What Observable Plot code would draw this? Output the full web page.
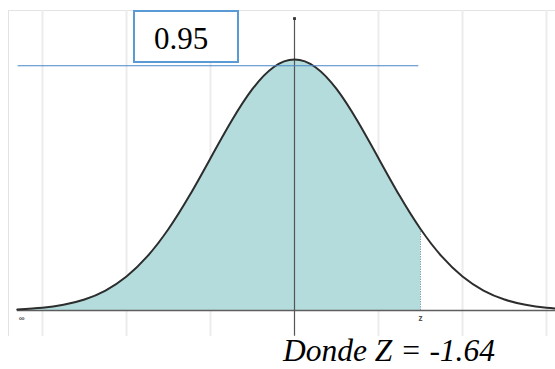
<!DOCTYPE html>
<html>
<head>
<meta charset="utf-8">
<script src="https://cdn.jsdelivr.net/npm/d3@7"></script>
<script src="https://cdn.jsdelivr.net/npm/@observablehq/plot@0.6"></script>
<style>
  html, body { margin: 0; padding: 0; background: #fff; }
  #wrap { position: relative; width: 555px; height: 369px; overflow: hidden; }
  #chart { position: absolute; left: 0; top: 0; width: 560px; }
  #chart svg { max-width: none !important; }
  #box { position: absolute; left: 133px; top: 10px; width: 106px; height: 53px; box-sizing: border-box;
         border: 2px solid #5b9bd5; background: #fff; }
  #boxText { position: absolute; left: 154px; top: 23px; font-family: "Liberation Serif", serif; font-size: 31px; line-height: 31px; color: #000; }
  #caption { position: absolute; left: 283px; top: 333px; font-family: "Liberation Serif", serif; font-style: italic; font-size: 31.5px; line-height: 35px; color: #000; white-space: nowrap; }
</style>
</head>
<body>
<div id="wrap">
  <div id="chart"></div>
  <div id="box"></div>
  <div id="boxText"></div>
  <div id="caption"></div>
</div>
<script>
// Curve (x in standard units, y = density)
const curveX = [-3.3, -3, -2.75, -2.5, -2.25, -2, -1.75, -1.5, -1.25, -1, -0.75, -0.5, -0.25, 0,
                0.25, 0.5, 0.75, 1, 1.25, 1.5, 1.75, 2, 2.25, 2.5, 2.75, 3, 3.2];
const curveY = [0.0017, 0.0044, 0.0091, 0.0175, 0.0317, 0.054, 0.0863, 0.1295, 0.1826, 0.242, 0.3011, 0.3521, 0.3867, 0.3989,
                0.3867, 0.3521, 0.3011, 0.242, 0.1826, 0.1295, 0.0863, 0.054, 0.0317, 0.0175, 0.0091, 0.0044, 0.0024];
const zValue = 1.5;            // shaded region ends here
const gridX = [-3, -2, -1, 1, 2, 3];
const axisYExtent = [-0.041, 0.464];
const refLineY = 0.389;        // blue horizontal line
const refLineX = [-3.29, 1.48];
const boxLabel = "0.95";
const captionText = "Donde Z = -1.64";
const leftLabel = "∞";
const zLabel = "z";

const curve = curveX.map((x, i) => ({x, y: curveY[i]}));
const shaded = curve.filter(d => d.x <= zValue);
const zDensity = curveY[curveX.indexOf(zValue)];

const chart = Plot.plot({
  width: 560,
  height: 336,
  marginLeft: 8,
  marginTop: 10,
  marginRight: 0,
  marginBottom: 0,
  style: {maxWidth: "none"},
  x: {domain: [-1, 1], range: [210, 378], axis: null},
  y: {domain: [0, 0.39894], range: [310, 59], axis: null},
  marks: [
    Plot.frame({stroke: "#e3e3e3"}),
    Plot.ruleX(gridX, {stroke: "#ececec", strokeWidth: 2}),
    Plot.areaY(shaded, {x: "x", y: "y", fill: "#b4dcdc", curve: "natural"}),
    Plot.ruleX([zValue], {y1: 0, y2: zDensity, stroke: "#7fa9a9", strokeWidth: 1, strokeDasharray: "1.5,1"}),
    Plot.ruleY([0], {x1: curveX[0], x2: 3.4, stroke: "#5e5e5e", strokeWidth: 1.5}),
    Plot.ruleX([0], {y1: axisYExtent[0], y2: axisYExtent[1], stroke: "#555", strokeWidth: 1.2}),
    Plot.dot([{x: 0, y: axisYExtent[1]}], {x: "x", y: "y", symbol: "square", r: 1.6, fill: "#333"}),
    Plot.lineY(curve, {x: "x", y: "y", stroke: "#2d2d2d", strokeWidth: 2, curve: "natural"}),
    Plot.ruleY([refLineY], {x1: refLineX[0], x2: refLineX[1], stroke: "#4a86c8", strokeWidth: 1.2}),
    Plot.text([leftLabel], {x: -3.25, y: 0, dy: 8, fontSize: 8, fill: "#555", fontWeight: "bold"}),
    Plot.text([zLabel], {x: zValue, y: 0, dy: 8, fontSize: 8, fill: "#555", fontWeight: "bold"})
  ]
});
chart.style.maxWidth = "none";
document.getElementById("chart").appendChild(chart);
document.getElementById("boxText").textContent = boxLabel;
document.getElementById("caption").textContent = captionText;
</script>
</body>
</html>
